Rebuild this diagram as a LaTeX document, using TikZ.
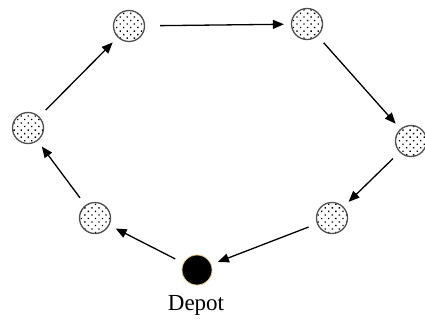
\documentclass[tikz,border=0pt]{standalone}
\usepackage{fontspec}
\setmainfont{Liberation Serif}
\usetikzlibrary{arrows.meta,patterns.meta}
\begin{document}
\begin{tikzpicture}[x=1pt,y=-1pt,
  stop/.style={circle,minimum size=31pt,inner sep=0pt,line width=1.3pt,
    draw={rgb,255:red,80;green,80;blue,80},
    pattern={Dots[angle=45,distance=5pt,radius=0.95pt]},pattern color=black},
  depot/.style={circle,minimum size=30pt,inner sep=0pt,fill=black,line width=0.8pt,
    draw={rgb,255:red,225;green,195;blue,120}},
  route/.style={line width=1.3pt,-{Triangle[length=11pt,width=9pt]},
    shorten <=9pt,shorten >=7pt}]
  \useasboundingbox (0,0) rectangle (425,321);
  % customers along the tour
  \node[stop] (a) at (129,26) {};
  \node[stop] (b) at (307,24) {};
  \node[stop] (c) at (411,141) {};
  \node[stop] (d) at (332,218) {};
  \node[depot] (o) at (197,270) {};
  \node[stop] (e) at (95,218) {};
  \node[stop] (f) at (28,128) {};
  \node[font=\fontsize{23}{26}\selectfont] (lbl) at (196,305) {Depot};
  % tour, clockwise
  \draw[route,shorten <=15pt] (a) -- (b);
  \draw[route] (b) -- (c);
  \draw[route] (c) -- (d);
  \draw[route] (d) -- (o);
  \draw[route] (o) -- (e);
  \draw[route] (e) -- (f);
  \draw[route] (f) -- (a);
\end{tikzpicture}
\end{document}
